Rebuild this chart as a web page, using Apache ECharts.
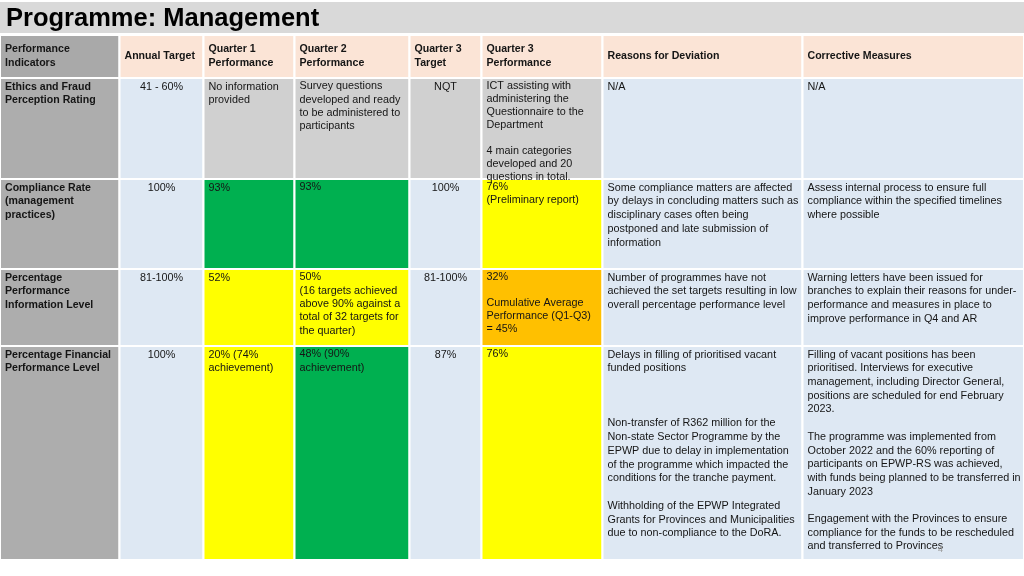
<!DOCTYPE html>
<html>
<head>
<meta charset="utf-8">
<script src="https://cdn.jsdelivr.net/npm/echarts@6/dist/echarts.min.js"></script>
<style>
  html, body { margin: 0; padding: 0; background: #ffffff; }
  #chart { width: 1024px; height: 576px; }
</style>
</head>
<body>
<div id="chart"></div>
<script>
// ---------------- DATA ----------------
const headers = ['Performance\nIndicators', 'Annual Target', 'Quarter 1\nPerformance', 'Quarter 2\nPerformance',
  'Quarter 3\nTarget', 'Quarter 3\nPerformance', 'Reasons for Deviation', 'Corrective Measures'];

const indicators = ['Ethics and Fraud\nPerception Rating', 'Compliance Rate\n(management\npractices)',
  'Percentage\nPerformance\nInformation Level', 'Percentage Financial\nPerformance Level'];

const annualTarget = ['41 - 60%', '100%', '81-100%', '100%'];

const q1Performance = ['No information\nprovided', '93%', '52%', '20% (74%\nachievement)'];

const q2Performance = ['Survey questions\ndeveloped and ready\nto be administered to\nparticipants', '93%',
  '50%\n(16 targets achieved\nabove 90% against a\ntotal of 32 targets for\nthe quarter)', '48% (90%\nachievement)'];

const q3Target = ['NQT', '100%', '81-100%', '87%'];

const q3Performance = ['ICT assisting with\nadministering the\nQuestionnaire to the\nDepartment\n\n4 main categories\ndeveloped and 20\nquestions in total.',
  '76%\n(Preliminary report)', '32%\n\nCumulative Average\nPerformance (Q1-Q3)\n= 45%', '76%'];

const reasons = ['N/A',
  'Some compliance matters are affected\nby delays in concluding matters such as\ndisciplinary cases often being\npostponed and late submission of\ninformation',
  'Number of programmes have not\nachieved the set targets resulting in low\noverall percentage performance level',
  'Delays in filling of prioritised vacant\nfunded positions\n\n\n\nNon-transfer of R362 million for the\nNon-state Sector Programme by the\nEPWP due to delay in implementation\nof the programme which impacted the\nconditions for the tranche payment.\n\nWithholding of the EPWP Integrated\nGrants for Provinces and Municipalities\ndue to non-compliance to the DoRA.'];

const corrective = ['N/A',
  'Assess internal process to ensure full\ncompliance within the specified timelines\nwhere possible',
  'Warning letters have been issued for\nbranches to explain their reasons for under-\nperformance and measures in place to\nimprove performance in Q4 and AR',
  'Filling of vacant positions has been\nprioritised. Interviews for executive\nmanagement, including Director General,\npositions are scheduled for end February\n2023.\n\nThe programme was implemented from\nOctober 2022 and the 60% reporting of\nparticipants on EPWP-RS was achieved,\nwith funds being planned to be transferred in\nJanuary 2023\n\nEngagement with the Provinces to ensure\ncompliance for the funds to be rescheduled\nand transferred to Provinces'];

// ratings: 'nqt' = not measured, 'achieved', 'partial', 'notAchieved'
const q1Rating = ['nqt', 'achieved', 'partial', 'partial'];
const q2Rating = ['nqt', 'achieved', 'partial', 'achieved'];
const q3Rating = ['nqt', 'partial', 'notAchieved', 'partial'];

// ---------------- LAYOUT / STYLE ----------------
const colEdges = [0, 119.5, 203.5, 294.5, 409.5, 481.5, 602.5, 802.5, 1024];
const rowEdges = [0, 43, 144, 234, 311, 525];
const colLineHeight = [13.7, 13.7, 13.7, 13.3, 13.7, 12.9, 13.75, 13.7];
const ratingColor = { nqt: '#d0d0d0', achieved: '#00b050', partial: '#ffff00', notAchieved: '#ffc000' };
const C = { header: '#fbe4d6', headerFirst: '#a9a9a9', first: '#adadad', plain: '#dee8f3' };
const FONT = '"Liberation Sans", Arial, sans-serif';

const columns = [indicators, annualTarget, q1Performance, q2Performance, q3Target, q3Performance, reasons, corrective];
const centered = [false, true, false, false, true, false, false, false];

function cellFill(col, row) {
  if (row === 0) return col === 0 ? C.headerFirst : C.header;
  const r = row - 1;
  if (col === 0) return C.first;
  if (col === 2) return ratingColor[q1Rating[r]];
  if (col === 3) return ratingColor[q2Rating[r]];
  if (col === 4) return q3Target[r] === 'NQT' ? ratingColor.nqt : C.plain;
  if (col === 5) return ratingColor[q3Rating[r]];
  return C.plain;
}

const cells = [];
for (let r = 0; r <= indicators.length; r++) {
  for (let c = 0; c < headers.length; c++) cells.push([c, r]);
}

const chart = echarts.init(document.getElementById('chart'), null, { renderer: 'canvas' });
chart.setOption({
  animation: false,
  backgroundColor: '#ffffff',
  title: {
    text: 'Programme: Management',
    left: 1, top: 1,
    textStyle: { fontFamily: FONT, fontSize: 25.5, fontWeight: 'bold', color: '#000000' }
  },
  graphic: [
    { type: 'rect', z: -10, shape: { x: 0, y: 2, width: 1024, height: 31 }, style: { fill: '#d9d9d9' } },
    { type: 'text', z: 10, left: 938, top: 545, style: { text: '4', fontFamily: FONT, fontSize: 9, fill: '#9a9a9a' } }
  ],
  grid: { left: 0, right: 0, top: 35, bottom: 16 },
  xAxis: { type: 'value', min: 0, max: 1024, show: false },
  yAxis: { type: 'value', min: 0, max: 525, inverse: true, show: false },
  series: [{
    type: 'custom',
    coordinateSystem: 'cartesian2d',
    data: cells,
    renderItem: function (params, api) {
      const col = api.value(0), row = api.value(1);
      const p0 = api.coord([colEdges[col], rowEdges[row]]);
      const p1 = api.coord([colEdges[col + 1], rowEdges[row + 1]]);
      const x = p0[0], y = p0[1], w = p1[0] - p0[0], h = p1[1] - p0[1];
      const isHeader = row === 0;
      const text = isHeader ? headers[col] : columns[col][row - 1];
      const bold = isHeader || col === 0;
      const center = !isHeader && centered[col];
      return {
        type: 'group',
        children: [
          { type: 'rect', shape: { x: x, y: y, width: w, height: h },
            style: { fill: cellFill(col, row), stroke: '#ffffff', lineWidth: 2 } },
          { type: 'text', z2: 10,
            style: {
              text: text,
              x: center ? x + w / 2 : x + 5,
              y: isHeader ? y + h / 2 : y + 1.8,
              align: center ? 'center' : 'left',
              verticalAlign: isHeader ? 'middle' : 'top',
              fontFamily: FONT, fontSize: bold ? 10.6 : 10.8, fontWeight: bold ? 'bold' : 'normal',
              lineHeight: isHeader ? 14 : colLineHeight[col], fill: '#151515'
            } }
        ]
      };
    }
  }]
});
</script>
</body>
</html>
